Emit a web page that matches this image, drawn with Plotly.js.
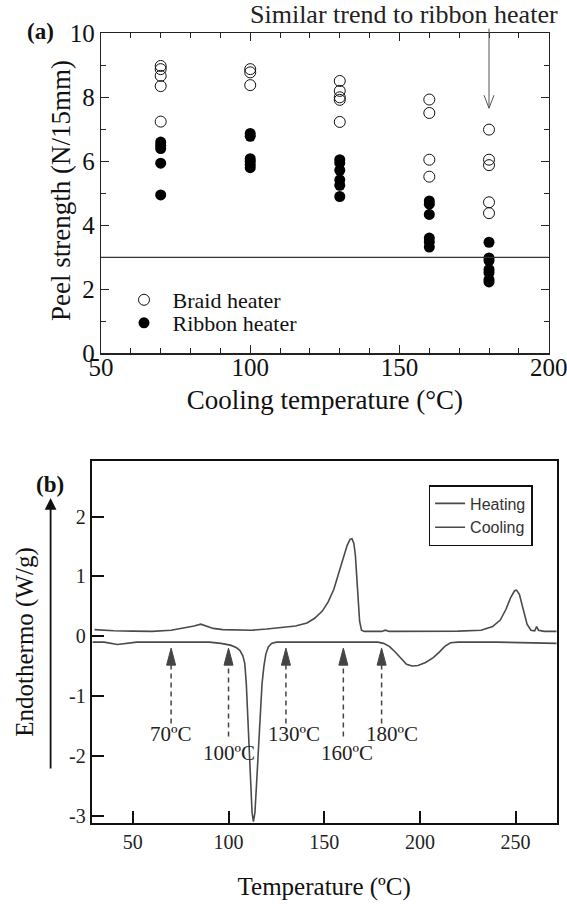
<!DOCTYPE html>
<html>
<head>
<meta charset="utf-8">
<script src="https://cdn.plot.ly/plotly-3.0.1.min.js"></script>
<style>html,body{margin:0;padding:0;background:#fff;}#chart{width:567px;height:905px;}</style>
</head>
<body>
<div id="chart"></div>
<script>
// ---------- Data: (a) peel strength vs cooling temperature ----------
const braidTemp = [70,70,70,70,70, 100,100,100, 130,130,130,130,130, 160,160,160,160, 180,180,180,180,180];
const braidStrength = [8.98,8.88,8.67,8.35,7.24, 8.88,8.78,8.38, 8.51,8.2,8.0,7.92,7.23, 7.93,7.51,6.05,5.52, 6.99,6.05,5.88,4.72,4.38];
const ribbonTemp = [70,70,70,70,70, 100,100,100,100,100,100, 130,130,130,130,130,130, 160,160,160,160,160,160, 180,180,180,180,180,180,180];
const ribbonStrength = [6.6,6.5,6.4,5.94,4.95, 6.87,6.78,6.08,6.0,5.9,5.8, 6.05,5.95,5.72,5.42,5.25,4.9, 4.76,4.66,4.34,3.6,3.48,3.32, 3.47,2.98,2.9,2.62,2.52,2.3,2.23];
const thresholdStrength = 3;
const arrowTarget = [180, 7.66];

// ---------- Data: (b) DSC curves ----------
const heatT = [30,35,40,50,60,70,76,82,85.5,88,92,97,105,112,120,128,135,141,145,149,152,155,158,160,162,163.5,164.5,165.5,166.3,167,167.7,168.5,169.5,171,180,182,184,200,220,232,238,242,245,247.5,249.5,250.5,252,254,256,258,260,261,262,265,271.5];
const heatW = [0.11,0.1,0.09,0.085,0.08,0.1,0.13,0.17,0.2,0.17,0.13,0.11,0.1,0.1,0.12,0.14,0.17,0.22,0.3,0.42,0.57,0.78,1.08,1.3,1.52,1.62,1.63,1.55,1.35,1.0,0.6,0.25,0.1,0.08,0.08,0.1,0.08,0.08,0.085,0.1,0.16,0.27,0.45,0.65,0.76,0.77,0.7,0.45,0.2,0.1,0.09,0.16,0.1,0.08,0.08];
const coolT = [29,35,42,47,52,60,70,80,90,96,101,104,106,107.5,108.5,109.3,110,110.7,111.5,112.3,113,113.8,114.6,115.5,116.5,117.5,118.5,119.5,120.8,122.5,125,140,160,178,181,184,187,190,193,196,199,203,207,210,213,216,220,240,260,271.5];
const coolW = [-0.1,-0.1,-0.14,-0.12,-0.1,-0.1,-0.1,-0.095,-0.1,-0.12,-0.15,-0.19,-0.24,-0.33,-0.46,-0.8,-1.3,-1.9,-2.5,-2.95,-3.1,-2.95,-2.5,-1.9,-1.3,-0.8,-0.5,-0.3,-0.18,-0.12,-0.1,-0.1,-0.1,-0.1,-0.12,-0.17,-0.26,-0.37,-0.47,-0.5,-0.49,-0.44,-0.36,-0.27,-0.17,-0.11,-0.1,-0.1,-0.11,-0.12];
const markTemps = [70,100,130,160,180];
const markLabels = ['70ºC','100ºC','130ºC','160ºC','180ºC'];
const xTicksB = [50,100,150,200,250];
const yTickValsB = [-3,-2,-1,0,1,2];
const yTickTextB = ['-3','-2','-1','0','1','2'];

// ---------- Styling ----------
const SERIF = 'Liberation Serif, Times New Roman, serif';
const SANS = 'Liberation Sans, Arial, sans-serif';
const W = 567, H = 905;
const px = v => v / W, py = v => 1 - v / H;

const labelY = [-1.63, -1.95, -1.63, -1.95, -1.63];
const labelShift = [0, 0, 8, 4, 10];
const dashBottom = [-1.46, -1.68, -1.46, -1.68, -1.46];

const traces = [
  {x: braidTemp, y: braidStrength, type: 'scatter', mode: 'markers', name: 'Braid heater',
   xaxis: 'x', yaxis: 'y', legend: 'legend',
   marker: {symbol: 'circle-open', size: 11, color: '#111', line: {width: 1, color: '#111'}}},
  {x: ribbonTemp, y: ribbonStrength, type: 'scatter', mode: 'markers', name: 'Ribbon heater',
   xaxis: 'x', yaxis: 'y', legend: 'legend3',
   marker: {symbol: 'circle', size: 11, color: '#000'}},
  {x: heatT, y: heatW, type: 'scatter', mode: 'lines', name: 'Heating',
   xaxis: 'x2', yaxis: 'y2', legend: 'legend2', line: {color: '#4a4a4a', width: 1.6}},
  {x: coolT, y: coolW, type: 'scatter', mode: 'lines', name: 'Cooling',
   xaxis: 'x2', yaxis: 'y2', legend: 'legend2', line: {color: '#4a4a4a', width: 1.6}}
];

const shapes = [
  {type: 'line', xref: 'x', yref: 'y', x0: 50, x1: 200, y0: thresholdStrength, y1: thresholdStrength,
   line: {color: '#333', width: 1.3}},
  {type: 'path', xref: 'x', yref: 'y', xsizemode: 'pixel', ysizemode: 'pixel',
   xanchor: arrowTarget[0], yanchor: arrowTarget[1], path: 'M-5,13 L0,0 L5,13',
   line: {color: '#555', width: 1}}
];
markTemps.forEach((t, i) => {
  shapes.push({type: 'line', xref: 'x2', yref: 'y2', x0: t, x1: t, y0: dashBottom[i], y1: -0.45,
    line: {color: '#444', width: 1.5, dash: '5px,4px'}});
  shapes.push({type: 'path', xref: 'x2', yref: 'y2', xsizemode: 'pixel', ysizemode: 'pixel',
    xanchor: t, yanchor: -0.2, path: 'M0,0 L-4.5,-17 L4.5,-17 Z',
    fillcolor: '#444', line: {color: '#444', width: 1}});
});

const annotations = [
  {text: '<b>(a)</b>', xref: 'paper', yref: 'paper', x: px(40.5), y: py(32), xanchor: 'center', yanchor: 'middle',
   showarrow: false, font: {family: SERIF, size: 23, color: '#111'}},
  {text: 'Peel strength (N/15mm)', xref: 'paper', yref: 'paper', x: px(61), y: py(191), textangle: -90,
   xanchor: 'center', yanchor: 'middle', showarrow: false, font: {family: SERIF, size: 27, color: '#111'}},
  {text: 'Similar trend to ribbon heater', xref: 'paper', yref: 'paper', x: px(404), y: py(15),
   xanchor: 'center', yanchor: 'middle',
   showarrow: false, font: {family: SERIF, size: 26, color: '#222'}},
  {text: '', xref: 'x', yref: 'y', x: arrowTarget[0], y: arrowTarget[1], showarrow: true,
   arrowhead: 0, ax: 0, ay: -81, arrowwidth: 1, arrowcolor: '#555'},
  {text: '<b>(b)</b>', xref: 'paper', yref: 'paper', x: px(50), y: py(485), xanchor: 'center', yanchor: 'middle',
   showarrow: false, font: {family: SERIF, size: 23, color: '#111'}},
  {text: '', xref: 'paper', yref: 'paper', x: px(50.6), y: py(498), showarrow: true,
   arrowhead: 2, arrowsize: 1.3, arrowwidth: 1.8, arrowcolor: '#111', ax: 0, ay: 272}
];
markTemps.forEach((t, i) => {
  annotations.push({text: markLabels[i], xref: 'x2', yref: 'y2', x: t, y: labelY[i], xshift: labelShift[i],
    xanchor: 'center', yanchor: 'middle',
    showarrow: false, font: {family: SERIF, size: 21, color: '#222'}});
});

const tickFontA = {family: SERIF, size: 25, color: '#111'};
const tickFontB = {family: SERIF, size: 20, color: '#222'};
const legendA = {xanchor: 'left', yanchor: 'top', bgcolor: 'rgba(0,0,0,0)', itemwidth: 47,
  font: {family: SERIF, size: 22, color: '#111'}};

const layout = {
  width: W, height: H,
  margin: {l: 0, r: 0, t: 0, b: 0},
  paper_bgcolor: '#fff', plot_bgcolor: '#fff',
  showlegend: true,
  xaxis: {domain: [px(101), px(548.7)], range: [50, 200], anchor: 'y',
    tick0: 50, dtick: 50, ticks: 'inside', ticklen: 8, tickwidth: 1, tickcolor: '#222',
    minor: {dtick: 10, ticks: 'inside', ticklen: 5, tickwidth: 1, tickcolor: '#222'},
    showline: true, linewidth: 1.2, linecolor: '#222', mirror: 'allticks',
    showgrid: false, zeroline: false, tickfont: tickFontA, ticklabelstandoff: -9,
    ticklabeloverflow: 'allow',
    title: {text: 'Cooling temperature (°C)', font: {family: SERIF, size: 27, color: '#111'}, standoff: 10}},
  yaxis: {domain: [py(353.3), py(33.3)], range: [0, 10], anchor: 'x',
    tick0: 0, dtick: 2, ticks: 'inside', ticklen: 8, tickwidth: 1, tickcolor: '#222',
    minor: {dtick: 1, ticks: 'inside', ticklen: 5, tickwidth: 1, tickcolor: '#222'},
    showline: true, linewidth: 1.2, linecolor: '#222', mirror: 'allticks',
    showgrid: false, zeroline: false, tickfont: tickFontA, ticklabeloverflow: 'allow'},
  xaxis2: {domain: [px(91.7), px(556.7)], range: [28.5, 271.5], anchor: 'y2',
    tickvals: xTicksB, ticks: 'inside', ticklen: 12, tickwidth: 2, tickcolor: '#111',
    showline: true, linewidth: 2, linecolor: '#111', mirror: true,
    showgrid: false, zeroline: false, tickfont: tickFontB,
    title: {text: 'Temperature (ºC)', font: {family: SERIF, size: 25, color: '#111'}, standoff: 25}},
  yaxis2: {domain: [py(823.3), py(460.7)], range: [-3.13, 2.935], anchor: 'x2',
    tickvals: yTickValsB, ticktext: yTickTextB, ticks: 'inside', ticklen: 12, tickwidth: 2, tickcolor: '#111',
    showline: true, linewidth: 2, linecolor: '#111', mirror: true,
    showgrid: false, zeroline: false, tickfont: tickFontB,
    title: {text: 'Endothermo (W/g)', font: {family: SERIF, size: 25, color: '#111'}, standoff: 28}},
  legend: Object.assign({x: px(115.5), y: py(279)}, legendA),
  legend3: Object.assign({x: px(115.5), y: py(302)}, legendA),
  legend2: {x: px(428.6), y: py(485), xanchor: 'left', yanchor: 'top', bgcolor: '#fff',
    bordercolor: '#111', borderwidth: 1.5, font: {family: SANS, size: 16, color: '#333'}},
  shapes: shapes,
  annotations: annotations
};

Plotly.newPlot('chart', traces, layout, {displayModeBar: false, staticPlot: true});
</script>
</body>
</html>
